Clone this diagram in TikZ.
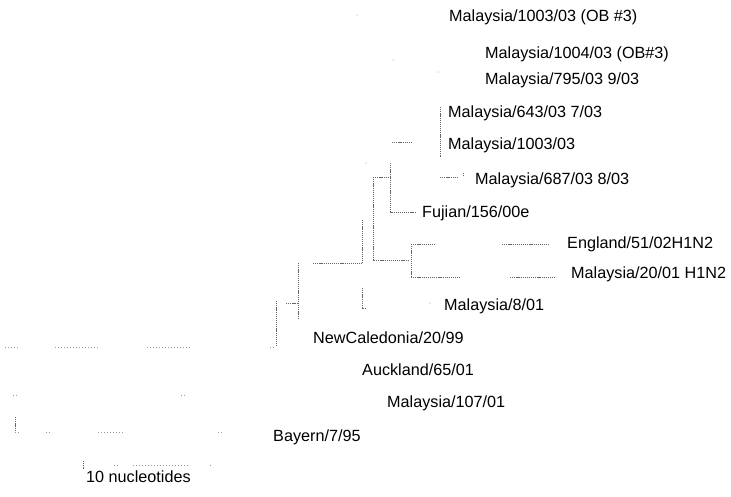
\documentclass[tikz,border=0pt]{standalone}
\usepackage{fontspec}
\setmainfont{Liberation Sans}
\begin{document}
\begin{tikzpicture}[x=1pt,y=-1pt,
  lbl/.style={anchor=base west,inner sep=0pt,font=\fontsize{16.2}{18}\selectfont,text=black},
  br/.style={draw=black!60,line width=0.6pt,dash pattern=on 1.2pt off 0.9pt},
  fbr/.style={draw=black!40,line width=0.55pt,dash pattern=on 1pt off 2pt},
  spk/.style={fill=black!50,inner sep=0pt,minimum size=1pt,circle}]
\useasboundingbox[fill=white] (0,0) rectangle (731,496);
% labels
\node[lbl] (l1) at (449,21) {Malaysia/1003/03 (OB \#3)};
\node[lbl] (l2) at (485,58) {Malaysia/1004/03 (OB\#3)};
\node[lbl] (l3) at (485,84) {Malaysia/795/03 9/03};
\node[lbl] (l4) at (448,117) {Malaysia/643/03 7/03};
\node[lbl] (l5) at (448,149) {Malaysia/1003/03};
\node[lbl] (l6) at (475,184) {Malaysia/687/03 8/03};
\node[lbl] (l7) at (422,217) {Fujian/156/00e};
\node[lbl] (l8) at (567,248) {England/51/02H1N2};
\node[lbl] (l9) at (571,278) {Malaysia/20/01 H1N2};
\node[lbl] (l10) at (444,310) {Malaysia/8/01};
\node[lbl] (l11) at (313,343) {NewCaledonia/20/99};
\node[lbl] (l12) at (362,375) {Auckland/65/01};
\node[lbl] (l13) at (387,407) {Malaysia/107/01};
\node[lbl] (l14) at (273,441) {Bayern/7/95};
\node[lbl] (l15) at (86,482) {10 nucleotides};
% internal coordinates
\coordinate (a1) at (440,107); \coordinate (a2) at (440,157);
\coordinate (b1) at (392,142); \coordinate (b2) at (412,142);
\coordinate (c1) at (440,177); \coordinate (c2) at (458,177);
\coordinate (d1) at (390,163); \coordinate (d2) at (390,212);
\coordinate (d3) at (416,212);
\coordinate (e0) at (373,177); \coordinate (e1) at (373,260);
\coordinate (e2) at (408,260);
\coordinate (f1) at (411,244); \coordinate (f2) at (411,277);
\coordinate (g1) at (436,244); \coordinate (g2) at (502,244); \coordinate (g3) at (550,244);
\coordinate (h1) at (460,277); \coordinate (h2) at (510,277); \coordinate (h3) at (556,277);
\coordinate (i1) at (362,220); \coordinate (i2) at (362,263);
\coordinate (i3) at (362,288); \coordinate (i4) at (362,308); \coordinate (i5) at (367,308);
\coordinate (j0) at (298,263); \coordinate (j1) at (313,263); \coordinate (j2) at (298,319);
\coordinate (k1) at (286,303);
\coordinate (m1) at (276,301); \coordinate (m2) at (276,347);
\coordinate (p1) at (15,417); \coordinate (p2) at (15,432);
\coordinate (q1) at (83,461); \coordinate (q2) at (83,469);
% branches
\draw[br] (a1) -- (a2);
\draw[br] (b1) -- (b2);
\draw[br] (c1) -- (c2);
\draw[br] (463,173) -- (463,177);
\draw[br] (d1) -- (d2) -- (d3);
\draw[br] (e0) -- (d1 |- e0);
\draw[br] (e0) -- (e1) -- (e2);
\draw[br] (f1) -- (f2);
\draw[br] (f1) -- (g1);
\draw[br] (g2) -- (g3);
\draw[br] (f2) -- (h1);
\draw[br] (h2) -- (h3);
\draw[br] (i1) -- (i2);
\draw[br] (i3) -- (i4) -- (i5);
\draw[br] (j1) -- (i2);
\draw[br] (j0) -- (j2);
\draw[br] (k1) -- (j0 |- k1);
\draw[br] (m1) -- (m2);
% faint fragments of the long basal branches
\draw[fbr] (5,347) -- (20,347);
\draw[fbr] (55,347) -- (100,347);
\draw[fbr] (147,347) -- (190,347);
\draw[fbr] (270,347) -- (m2);
\draw[br] (p1) -- (p2);
\draw[fbr] (p2) -- (20,432);
\draw[fbr] (46,432) -- (50,432);
\draw[fbr] (98,432) -- (125,432);
\draw[fbr] (218,432) -- (222,432);
\draw[fbr] (13,395) -- (17,395);
\draw[fbr] (181,395) -- (185,395);
% scale bar
\draw[br] (q1) -- (q2);
\draw[fbr] (114,465) -- (120,465);
\draw[fbr] (133,465) -- (190,465);
\draw[fbr] (210,465) -- (213,465);
% stray specks
\node[spk] at (357,15) {};
\node[spk] at (393,60) {};
\node[spk] at (438,72) {};
\node[spk] at (366,163) {};
\node[spk] at (430,303) {};
\end{tikzpicture}
\end{document}
